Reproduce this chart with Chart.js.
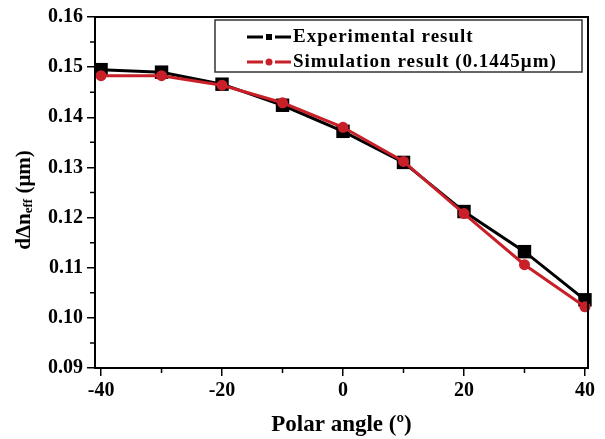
<!DOCTYPE html>
<html>
<head>
<meta charset="utf-8">
<script src="https://cdn.jsdelivr.net/npm/chart.js@4"></script>
<style>
  html, body { margin: 0; padding: 0; background: #fff; }
  #wrap { width: 605px; height: 439px; }
</style>
</head>
<body>
<div id="wrap"><canvas id="chart"></canvas></div>
<script>
// polar angle (deg) and measured / simulated d*delta n_eff (um)
const angles = [-40, -30, -20, -10, 0, 10, 20, 30, 40];
const experimental = [0.1495, 0.1490, 0.1466, 0.1424, 0.1372, 0.1310, 0.1212, 0.1132, 0.1036];
const simulation = [0.1483, 0.1483, 0.1464, 0.1429, 0.1380, 0.1312, 0.1208, 0.1106, 0.1022];

const xTicks = [-40, -20, 0, 20, 40];
const xMinor = [-30, -10, 10, 30];
const yTicks = [0.09, 0.10, 0.11, 0.12, 0.13, 0.14, 0.15, 0.16];
const yMinor = [0.095, 0.105, 0.115, 0.125, 0.135, 0.145, 0.155];

const labels = ['Experimental result', 'Simulation result (0.1445\u03bcm)'];

const SERIF = '"Liberation Serif", "Times New Roman", serif';
const RED = '#c81f28';

function toPoints(ys) {
  return angles.map((a, i) => ({ x: a, y: ys[i] }));
}

// frame, minor ticks, y title with subscript, legend box
const decor = {
  id: 'decor',
  afterDraw(chart) {
    const ctx = chart.ctx;
    const a = chart.chartArea;
    const xs = chart.scales.x, ys = chart.scales.y;
    ctx.save();
    ctx.strokeStyle = '#000';
    ctx.lineWidth = 2;
    ctx.strokeRect(a.left, a.top, a.right - a.left, a.bottom - a.top);

    ctx.lineWidth = 1.5;
    ctx.beginPath();
    xMinor.forEach(v => {
      const px = xs.getPixelForValue(v);
      ctx.moveTo(px, a.bottom);
      ctx.lineTo(px, a.bottom + 5);
    });
    yMinor.forEach(v => {
      const py = ys.getPixelForValue(v);
      ctx.moveTo(a.left, py);
      ctx.lineTo(a.left - 5, py);
    });
    ctx.stroke();

    // y axis title: d\u0394n_eff (\u03bcm)
    ctx.translate(25, 200);
    ctx.rotate(-Math.PI / 2);
    ctx.fillStyle = '#000';
    ctx.textBaseline = 'middle';
    const big = 'bold 21px ' + SERIF, small = 'bold 13px ' + SERIF;
    ctx.font = big;
    const w1 = ctx.measureText('d\u0394n').width;
    const w3 = ctx.measureText(' (\u03bcm)').width;
    ctx.font = small;
    const w2 = ctx.measureText('eff').width;
    let x = -(w1 + w2 + w3) / 2;
    ctx.font = big;
    ctx.fillText('d\u0394n', x, 0);
    x += w1;
    ctx.font = small;
    ctx.fillText('eff', x, 4);
    x += w2;
    ctx.font = big;
    ctx.fillText(' (\u03bcm)', x, 0);
    ctx.restore();

    // legend
    ctx.save();
    ctx.strokeStyle = '#333';
    ctx.lineWidth = 1.5;
    ctx.strokeRect(215, 20, 367, 52);
    ctx.font = 'bold 19px ' + SERIF;
    ctx.letterSpacing = '1px';
    ctx.textBaseline = 'alphabetic';
    chart.data.datasets.forEach((ds, i) => {
      const y = 37 + i * 25;
      ctx.strokeStyle = ds.borderColor;
      ctx.fillStyle = ds.borderColor;
      ctx.lineWidth = 3;
      ctx.beginPath();
      ctx.moveTo(247, y); ctx.lineTo(263, y);
      ctx.moveTo(275, y); ctx.lineTo(291, y);
      ctx.stroke();
      if (ds.pointStyle === 'rect') {
        ctx.fillRect(266, y - 3, 6, 6);
      } else {
        ctx.beginPath();
        ctx.arc(269, y, 3.5, 0, Math.PI * 2);
        ctx.fill();
      }
      ctx.fillStyle = '#000';
      ctx.fillText(ds.label, 293, y + 5);
    });
    ctx.restore();
  }
};

new Chart(document.getElementById('chart'), {
  type: 'line',
  data: {
    datasets: [
      {
        label: labels[0],
        data: toPoints(experimental),
        borderColor: '#000',
        backgroundColor: '#000',
        borderWidth: 3,
        pointStyle: 'rect',
        pointRadius: 9.5,
        pointBorderWidth: 0,
        pointHoverRadius: 9.5,
        order: 1,
        clip: false
      },
      {
        label: labels[1],
        data: toPoints(simulation),
        borderColor: RED,
        backgroundColor: RED,
        borderWidth: 3,
        pointStyle: 'circle',
        pointRadius: 5.5,
        pointBorderWidth: 0,
        pointHoverRadius: 5.5,
        order: 0,
        clip: false
      }
    ]
  },
  options: {
    responsive: true,
    maintainAspectRatio: false,
    animation: false,
    layout: { padding: { left: 0, right: 17, top: 17, bottom: 0 } },
    plugins: {
      legend: { display: false },
      tooltip: { enabled: false }
    },
    scales: {
      x: {
        type: 'linear',
        min: -41,
        max: 40.5,
        afterBuildTicks: s => { s.ticks = xTicks.map(v => ({ value: v })); },
        afterFit: s => { s.height = 71; },
        border: { display: true, color: '#000', width: 2 },
        grid: { drawOnChartArea: false, color: '#000', tickLength: 8, lineWidth: 1.5 },
        ticks: {
          color: '#000',
          padding: 3,
          maxRotation: 0,
          font: { family: SERIF, size: 20, weight: 'bold' },
          callback: v => String(v)
        },
        title: {
          display: true,
          text: 'Polar angle (\u00ba)',
          color: '#000',
          padding: { top: 0, bottom: 0 },
          font: { family: SERIF, size: 23, weight: 'bold' }
        }
      },
      y: {
        min: 0.09,
        max: 0.16,
        afterBuildTicks: s => { s.ticks = yTicks.map(v => ({ value: v })); },
        afterFit: s => { s.width = 95; },
        border: { display: true, color: '#000', width: 2 },
        grid: { drawOnChartArea: false, color: '#000', tickLength: 8, lineWidth: 1.5 },
        ticks: {
          color: '#000',
          padding: 4,
          font: { family: SERIF, size: 20, weight: 'bold' },
          callback: v => v.toFixed(2)
        }
      }
    }
  },
  plugins: [decor]
});
</script>
</body>
</html>
